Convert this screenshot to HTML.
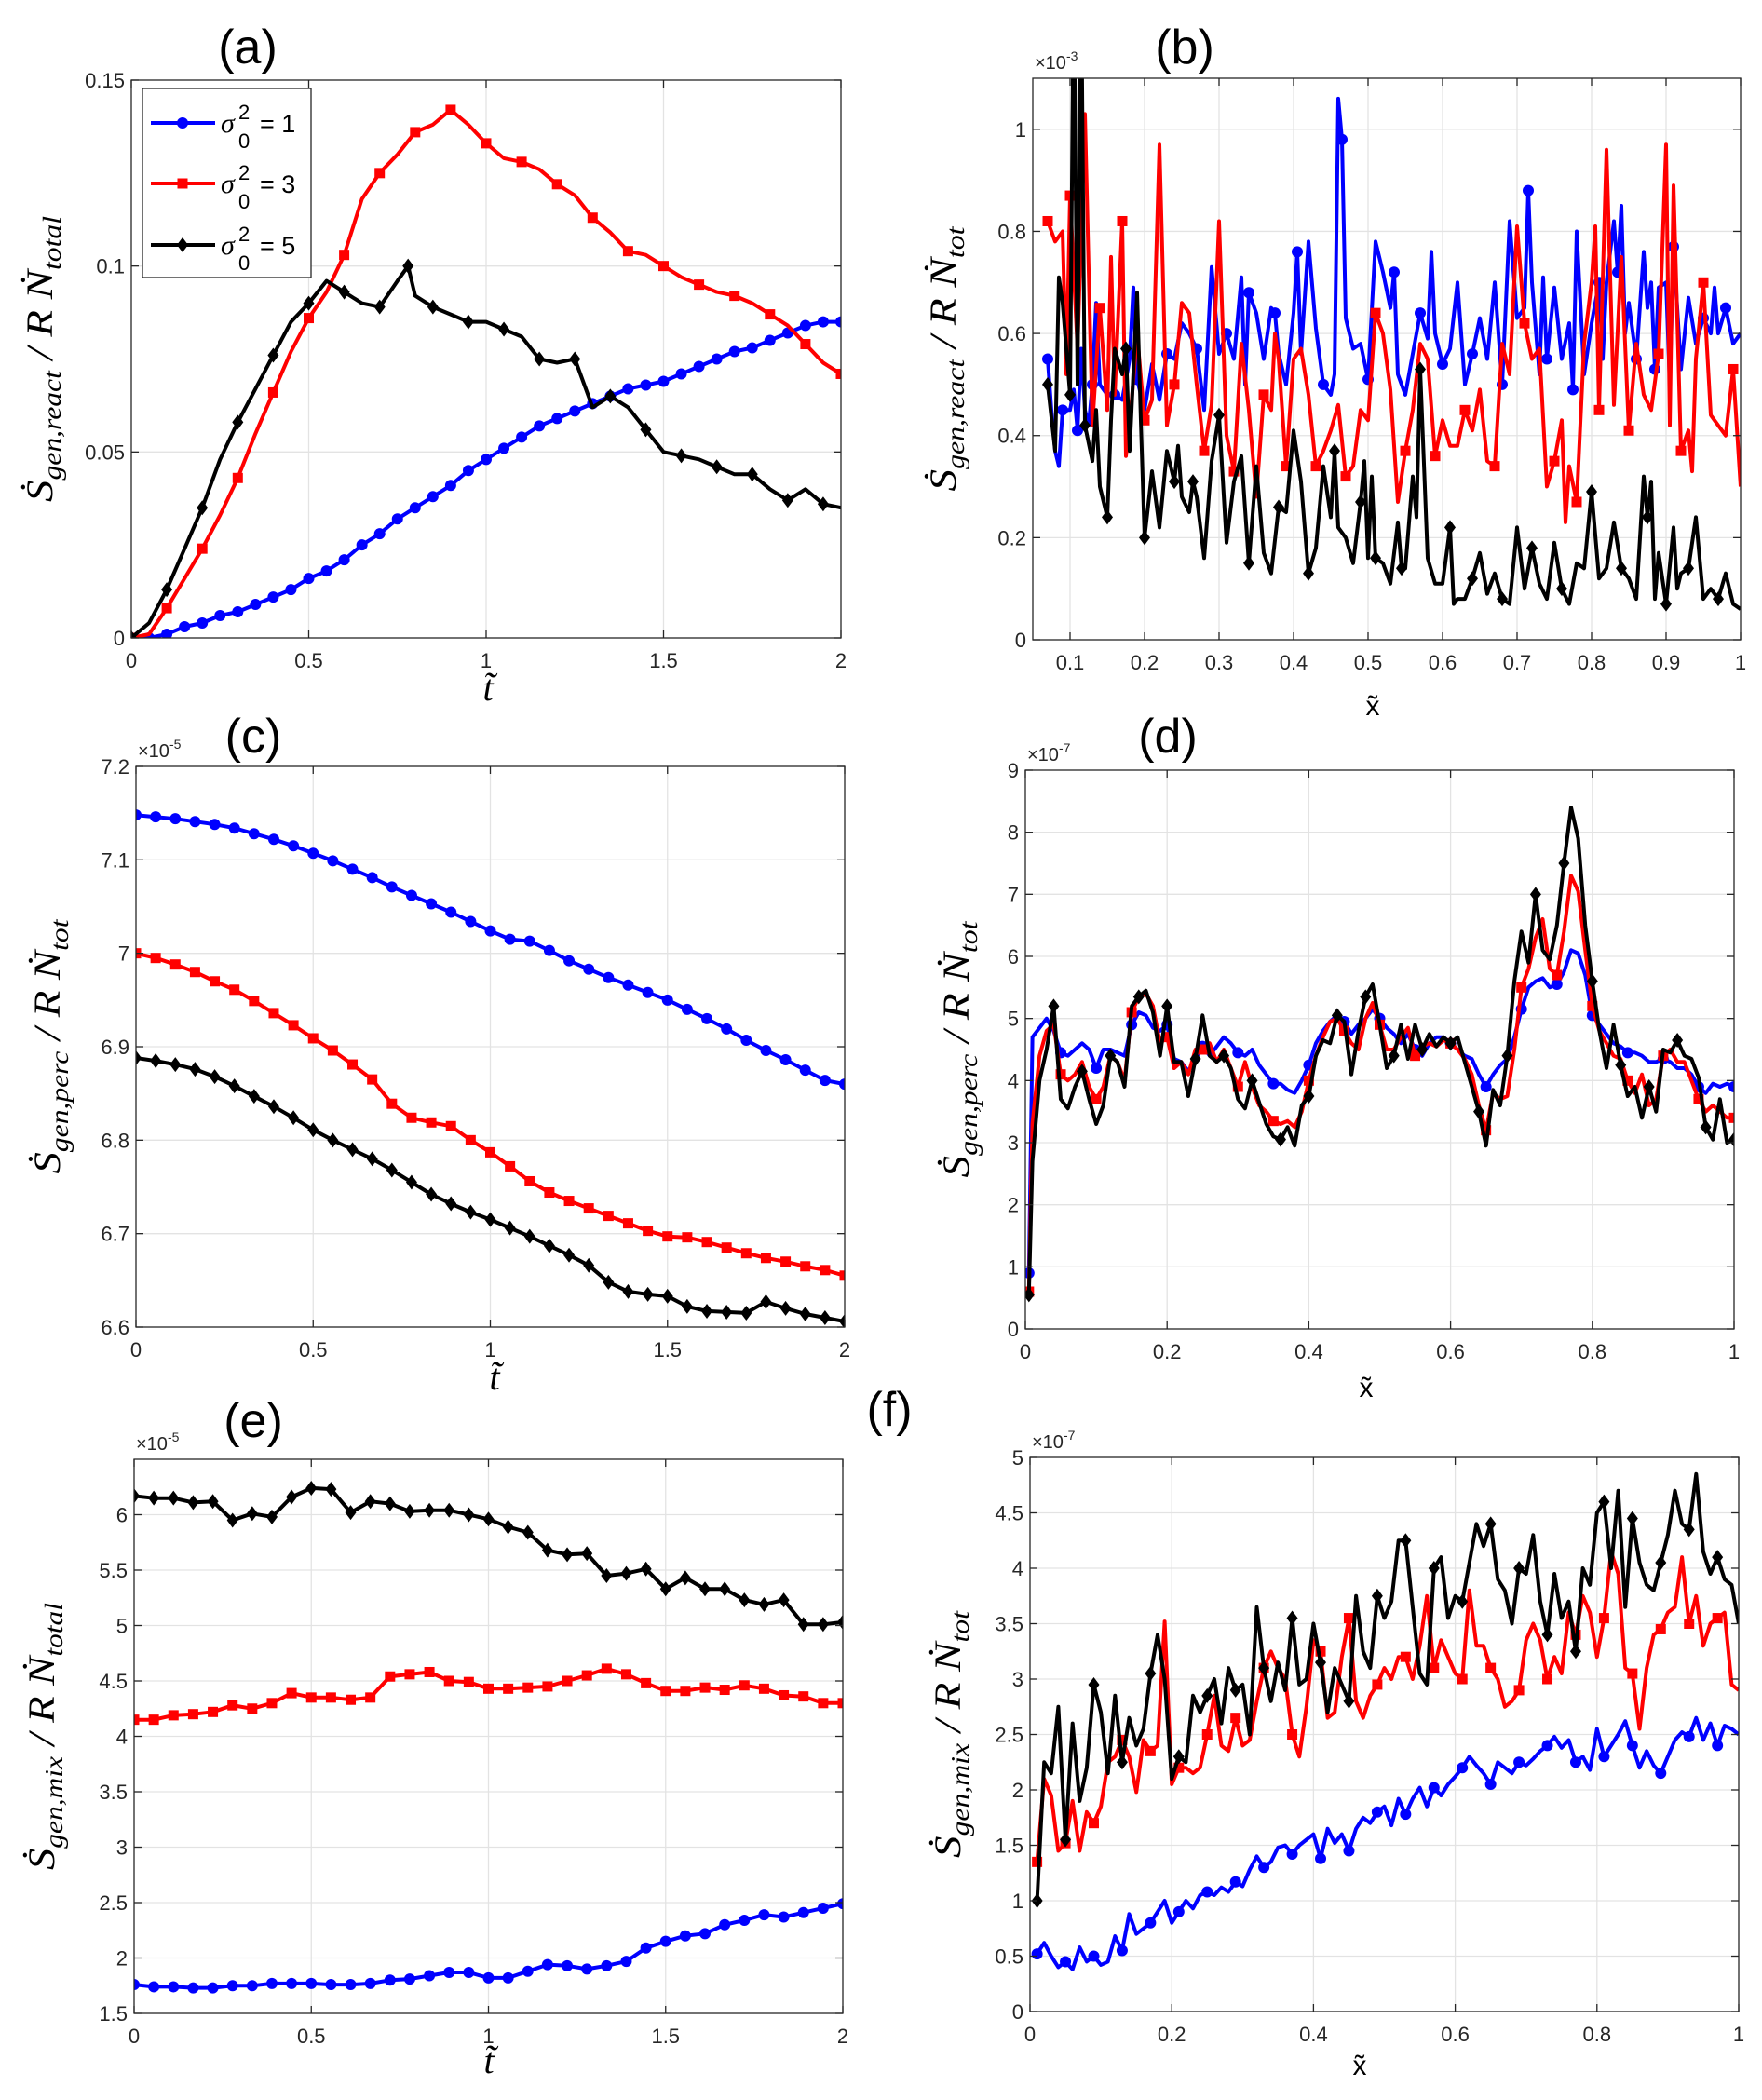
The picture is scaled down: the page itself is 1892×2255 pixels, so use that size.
<!DOCTYPE html>
<html><head><meta charset="utf-8"><style>
html,body{margin:0;padding:0;background:#fff;}
svg{display:block;}
</style></head>
<body>
<svg id="fig" width="1892" height="2255" viewBox="0 0 1892 2255" xmlns="http://www.w3.org/2000/svg">
<rect x="0" y="0" width="1892" height="2255" fill="#fff"/>
<g font-family="'Liberation Sans', sans-serif" font-size="52" fill="#000">
<text x="266" y="68" text-anchor="middle">(a)</text>
<text x="1272" y="68" text-anchor="middle">(b)</text>
<text x="272" y="808" text-anchor="middle">(c)</text>
<text x="1254" y="808" text-anchor="middle">(d)</text>
<text x="272" y="1543" text-anchor="middle">(e)</text>
<text x="955" y="1531" text-anchor="middle">(f)</text>
</g>
</svg>
<script>
// ---------- data ----------
const aT = [0,.05,.1,.15,.2,.25,.3,.35,.4,.45,.5,.55,.6,.65,.7,.75,.8,.85,.9,.95,1,1.05,1.1,1.15,1.2,1.25,1.3,1.35,1.4,1.45,1.5,1.55,1.6,1.65,1.7,1.75,1.8,1.85,1.9,1.95,2];
const aBlue = [0,0,.001,.003,.004,.006,.007,.009,.011,.013,.016,.018,.021,.025,.028,.032,.035,.038,.041,.045,.048,.051,.054,.057,.059,.061,.063,.065,.067,.068,.069,.071,.073,.075,.077,.078,.080,.082,.084,.085,.085];
const aRed = [0,.001,.008,.016,.024,.033,.043,.055,.066,.077,.086,.093,.103,.118,.125,.13,.136,.138,.142,.138,.133,.129,.128,.126,.122,.119,.113,.109,.104,.103,.100,.097,.095,.093,.092,.09,.087,.084,.079,.074,.071];
const aBlackT = [0,.05,.1,.15,.2,.25,.3,.35,.4,.45,.5,.55,.6,.65,.7,.75,.78,.8,.85,.9,.95,1,1.05,1.1,1.15,1.2,1.25,1.3,1.35,1.4,1.45,1.5,1.55,1.6,1.65,1.7,1.75,1.8,1.85,1.9,1.95,2];
const aBlack = [0,.004,.013,.024,.035,.048,.058,.067,.076,.085,.09,.096,.093,.09,.089,.096,.1,.092,.089,.087,.085,.085,.083,.081,.075,.074,.075,.062,.065,.062,.056,.05,.049,.048,.046,.044,.044,.04,.037,.04,.036,.035];

const bBlueX = [.07,.075,.08,.085,.09,.095,.1,.105,.11,.115,.12,.125,.13,.135,.14,.15,.16,.17,.18,.185,.19,.2,.21,.22,.23,.24,.25,.26,.27,.28,.29,.3,.31,.32,.33,.335,.34,.35,.36,.37,.375,.38,.39,.4,.405,.41,.42,.43,.44,.45,.455,.46,.465,.47,.48,.49,.5,.51,.52,.53,.535,.54,.55,.56,.57,.58,.585,.59,.6,.61,.62,.63,.64,.65,.66,.67,.68,.69,.7,.71,.715,.72,.73,.735,.74,.75,.76,.77,.775,.78,.79,.8,.81,.815,.82,.83,.835,.84,.845,.85,.86,.87,.875,.88,.885,.89,.9,.905,.91,.92,.93,.94,.95,.96,.965,.97,.98,.99,1.0];
const bBlueY = [.55,.45,.37,.34,.45,.45,.45,.49,.41,.57,.45,.42,.5,.66,.5,.48,.48,.47,.55,.69,.51,.45,.54,.47,.56,.55,.62,.6,.57,.45,.73,.56,.6,.55,.71,.5,.68,.64,.55,.65,.64,.56,.5,.64,.76,.56,.78,.61,.5,.48,.52,1.06,.98,.63,.57,.58,.51,.78,.72,.65,.72,.52,.48,.56,.64,.59,.76,.6,.54,.57,.7,.5,.56,.63,.55,.7,.5,.82,.63,.65,.88,.7,.52,.71,.55,.69,.55,.62,.49,.8,.52,.62,.7,.55,.7,.82,.72,.85,.6,.66,.55,.76,.65,.7,.53,.69,.7,.5,.77,.53,.67,.58,.63,.6,.69,.6,.65,.58,.6];
const bRedX = [.07,.08,.09,.095,.1,.11,.12,.13,.14,.15,.155,.16,.17,.175,.18,.19,.2,.21,.22,.23,.24,.25,.26,.27,.28,.29,.3,.31,.32,.33,.34,.35,.36,.37,.375,.38,.39,.4,.41,.42,.43,.44,.45,.46,.47,.48,.49,.5,.51,.52,.53,.54,.55,.56,.57,.58,.59,.6,.61,.62,.63,.64,.65,.66,.67,.68,.69,.7,.71,.72,.73,.74,.75,.76,.765,.77,.78,.79,.8,.805,.81,.82,.83,.84,.85,.86,.87,.88,.89,.9,.905,.91,.92,.93,.935,.94,.95,.96,.97,.98,.99,1.0];
const bRedY = [.82,.78,.8,.52,.87,.57,1.03,.42,.65,.45,.75,.48,.82,.36,.42,.6,.43,.47,.97,.42,.5,.66,.64,.5,.37,.46,.82,.4,.33,.58,.45,.28,.48,.45,.6,.55,.34,.55,.57,.48,.34,.37,.41,.46,.32,.34,.45,.43,.64,.6,.49,.27,.37,.45,.58,.55,.36,.43,.38,.38,.45,.41,.49,.35,.34,.58,.52,.81,.62,.55,.57,.3,.35,.43,.23,.34,.27,.58,.7,.81,.45,.96,.46,.75,.41,.58,.48,.45,.56,.97,.42,.89,.37,.41,.33,.55,.7,.44,.42,.4,.53,.3];
const bBlackX = [.07,.08,.085,.09,.1,.105,.11,.115,.12,.13,.135,.14,.15,.155,.16,.17,.175,.18,.19,.195,.2,.21,.22,.23,.24,.245,.25,.26,.265,.27,.28,.29,.3,.31,.32,.33,.34,.35,.36,.37,.38,.39,.4,.41,.42,.43,.44,.45,.455,.46,.47,.48,.49,.495,.5,.505,.51,.52,.53,.54,.545,.55,.56,.565,.57,.58,.59,.6,.61,.615,.62,.63,.64,.65,.66,.67,.68,.69,.7,.71,.72,.73,.74,.75,.76,.77,.78,.79,.8,.81,.82,.83,.84,.85,.86,.87,.875,.88,.885,.89,.9,.91,.915,.92,.93,.94,.95,.96,.97,.98,.99,1.0];
const bBlackY = [.5,.37,.71,.66,.48,1.3,.5,1.3,.42,.35,.45,.3,.24,.43,.57,.52,.57,.37,.68,.43,.2,.33,.22,.37,.31,.38,.28,.25,.31,.28,.16,.35,.44,.19,.31,.36,.15,.34,.17,.13,.26,.25,.41,.31,.13,.18,.34,.24,.37,.22,.2,.15,.27,.35,.16,.32,.16,.15,.11,.23,.14,.14,.32,.24,.53,.16,.11,.11,.22,.07,.08,.08,.12,.17,.09,.13,.08,.07,.22,.1,.18,.11,.08,.19,.1,.07,.15,.14,.29,.12,.14,.23,.14,.12,.08,.32,.24,.31,.08,.17,.07,.22,.1,.13,.14,.24,.08,.1,.08,.13,.07,.06];

const tGrid = [0,1/18,2/18,3/18,4/18,5/18,6/18,7/18,8/18,9/18,10/18,11/18,12/18,13/18,14/18,15/18,16/18,17/18,1,19/18,20/18,21/18,22/18,23/18,24/18,25/18,26/18,27/18,28/18,29/18,30/18,31/18,32/18,33/18,34/18,35/18,2];
const cBlue = [7.148,7.146,7.144,7.141,7.138,7.134,7.128,7.122,7.115,7.107,7.099,7.090,7.081,7.071,7.062,7.053,7.044,7.034,7.024,7.015,7.013,7.003,6.992,6.983,6.974,6.966,6.958,6.950,6.940,6.930,6.919,6.907,6.896,6.886,6.875,6.864,6.860];
const cRed = [7.0,6.995,6.988,6.980,6.970,6.961,6.949,6.936,6.923,6.909,6.896,6.881,6.865,6.839,6.824,6.819,6.815,6.800,6.787,6.772,6.756,6.744,6.735,6.727,6.719,6.711,6.703,6.697,6.696,6.691,6.685,6.679,6.674,6.670,6.665,6.661,6.655];
const cBlack = [6.888,6.885,6.881,6.876,6.868,6.858,6.847,6.836,6.824,6.811,6.800,6.790,6.780,6.768,6.755,6.742,6.732,6.723,6.715,6.706,6.697,6.687,6.677,6.666,6.648,6.638,6.635,6.633,6.622,6.617,6.616,6.615,6.627,6.620,6.614,6.610,6.606];

const dX = [0.005,.01,.02,.03,.04,.05,.06,.07,.08,.09,.1,.11,.12,.13,.14,.15,.16,.17,.18,.19,.2,.21,.22,.23,.24,.25,.26,.27,.28,.29,.3,.31,.32,.33,.34,.35,.36,.37,.38,.39,.4,.41,.42,.43,.44,.45,.46,.47,.48,.49,.5,.51,.52,.53,.54,.55,.56,.57,.58,.59,.6,.61,.62,.63,.64,.65,.66,.67,.68,.69,.7,.71,.72,.73,.74,.75,.76,.77,.78,.79,.8,.81,.82,.83,.84,.85,.86,.87,.88,.89,.9,.91,.92,.93,.94,.95,.96,.97,.98,.99,1.0];
const dBlue = [.9,4.7,4.85,5.0,4.8,4.45,4.4,4.5,4.6,4.5,4.2,4.5,4.5,4.45,4.4,4.9,5.1,5.05,4.85,4.8,4.9,4.35,4.3,4.15,4.35,4.55,4.4,4.55,4.7,4.6,4.45,4.4,4.5,4.25,4.1,3.95,3.95,3.85,3.8,4.0,4.25,4.6,4.8,4.95,5.05,4.95,4.75,4.9,5.0,5.15,5.0,4.85,4.75,4.6,4.75,4.5,4.4,4.6,4.7,4.7,4.6,4.5,4.4,4.35,4.1,3.9,4.1,4.25,4.35,4.7,5.15,5.5,5.6,5.65,5.5,5.55,5.75,6.1,6.05,5.7,5.05,4.9,4.75,4.6,4.55,4.45,4.45,4.4,4.3,4.3,4.35,4.3,4.2,4.2,4.1,3.9,3.8,3.95,3.9,3.95,3.9];
const dRed = [.6,3.3,4.4,4.8,4.9,4.1,4.0,4.1,4.3,3.9,3.7,3.9,4.4,4.3,4.0,5.1,5.35,5.4,5.2,4.6,4.7,4.2,4.3,4.1,4.5,4.5,4.6,4.3,4.5,4.2,3.9,4.3,3.9,3.6,3.5,3.35,3.3,3.35,3.25,3.5,4.0,4.4,4.7,4.95,5.0,4.8,4.6,4.5,5.0,5.25,4.9,4.5,4.5,4.7,4.85,4.4,4.55,4.6,4.55,4.65,4.6,4.5,4.35,4.1,3.6,3.2,3.8,3.7,3.75,4.5,5.5,5.8,6.3,6.6,5.8,5.7,6.4,7.3,7.05,6.1,5.2,4.8,4.6,4.4,4.35,4.0,3.8,4.1,3.6,3.7,4.4,4.5,4.3,4.3,4.0,3.7,3.5,3.6,3.5,3.4,3.4];
const dBlack = [.55,2.7,4.0,4.5,5.2,3.7,3.55,3.9,4.15,3.7,3.3,3.6,4.4,4.3,3.9,5.2,5.35,5.45,5.1,4.4,5.2,4.3,4.3,3.75,4.35,5.05,4.4,4.3,4.4,4.2,3.7,3.55,4.0,3.65,3.3,3.1,3.05,3.25,2.95,3.6,3.75,4.4,4.65,4.6,5.05,4.95,4.1,4.8,5.35,5.55,4.9,4.2,4.4,4.9,4.35,4.9,4.5,4.75,4.55,4.7,4.6,4.7,4.3,3.9,3.5,2.95,3.85,3.6,4.4,5.6,6.4,5.9,7.0,6.1,5.95,6.5,7.5,8.4,7.9,6.5,5.6,4.8,4.2,4.9,4.25,3.75,3.9,3.4,3.9,3.5,4.5,4.45,4.65,4.4,4.35,4.05,3.25,3.05,3.7,3.0,3.05];

const eBlack = [6.17,6.15,6.15,6.11,6.12,5.95,6.01,5.98,6.16,6.24,6.23,6.02,6.12,6.10,6.03,6.04,6.04,6.00,5.96,5.89,5.84,5.68,5.64,5.65,5.45,5.47,5.51,5.33,5.43,5.33,5.33,5.23,5.19,5.23,5.01,5.01,5.03];
const eRed = [4.15,4.15,4.19,4.20,4.22,4.28,4.25,4.30,4.39,4.35,4.35,4.33,4.35,4.54,4.56,4.58,4.50,4.49,4.43,4.43,4.44,4.45,4.50,4.55,4.61,4.56,4.48,4.41,4.41,4.44,4.42,4.46,4.43,4.37,4.36,4.30,4.30];
const eBlue = [1.76,1.74,1.74,1.73,1.73,1.75,1.75,1.77,1.77,1.77,1.76,1.76,1.77,1.80,1.81,1.84,1.87,1.87,1.82,1.82,1.88,1.94,1.93,1.90,1.93,1.97,2.09,2.15,2.20,2.22,2.30,2.34,2.39,2.37,2.41,2.45,2.49];

const fX = [.01,.02,.03,.04,.05,.06,.07,.08,.09,.1,.11,.12,.13,.14,.15,.16,.17,.18,.19,.2,.21,.22,.23,.24,.25,.26,.27,.28,.29,.3,.31,.32,.33,.34,.35,.36,.37,.38,.39,.4,.41,.42,.43,.44,.45,.46,.47,.48,.49,.5,.51,.52,.53,.54,.55,.56,.57,.58,.59,.6,.61,.62,.63,.64,.65,.66,.67,.68,.69,.7,.71,.72,.73,.74,.75,.76,.77,.78,.79,.8,.81,.82,.83,.84,.85,.86,.87,.88,.89,.9,.91,.92,.93,.94,.95,.96,.97,.98,.99,1.0];
const fBlue = [.52,.62,.5,.4,.45,.38,.58,.45,.5,.42,.45,.68,.55,.88,.7,.75,.8,.9,1.0,.8,.9,1.0,.93,1.05,1.08,1.05,1.12,1.08,1.17,1.13,1.28,1.4,1.3,1.35,1.48,1.5,1.42,1.5,1.55,1.6,1.38,1.65,1.52,1.6,1.45,1.65,1.75,1.7,1.8,1.85,1.68,1.92,1.78,1.92,2.02,1.85,2.02,1.95,2.05,2.12,2.2,2.3,2.22,2.15,2.05,2.25,2.2,2.15,2.25,2.22,2.28,2.35,2.4,2.48,2.38,2.45,2.25,2.3,2.18,2.55,2.3,2.4,2.5,2.62,2.4,2.2,2.35,2.22,2.15,2.3,2.45,2.52,2.48,2.65,2.45,2.6,2.4,2.58,2.55,2.5];
const fRed = [1.35,2.1,1.95,1.45,1.52,1.9,1.45,1.8,1.7,1.85,2.25,2.3,2.45,2.3,1.98,2.45,2.35,2.4,3.52,2.05,2.2,2.2,2.15,2.2,2.5,2.85,2.4,2.35,2.65,2.4,2.45,2.8,3.1,3.25,3.1,3.0,2.5,2.3,2.75,3.35,3.25,2.65,2.7,3.2,3.55,2.8,2.65,2.85,2.95,3.1,3.0,3.2,3.2,3.0,3.3,3.75,3.1,3.35,3.2,3.05,3.0,3.8,3.3,3.3,3.1,3.0,2.75,2.8,2.9,3.35,3.5,3.35,3.0,3.2,3.05,3.6,3.4,3.75,3.6,3.2,3.55,4.15,3.95,3.1,3.05,2.55,3.1,3.4,3.45,3.6,3.65,4.1,3.5,3.75,3.3,3.5,3.55,3.6,2.95,2.9];
const fBlack = [1.0,2.25,2.15,2.75,1.55,2.6,1.9,2.2,2.95,2.7,2.15,2.85,2.25,2.65,2.4,2.55,3.05,3.4,3.0,2.1,2.3,2.25,2.85,2.7,2.85,3.0,2.6,3.1,2.9,2.95,2.5,3.65,3.1,2.8,3.15,2.9,3.55,2.95,3.0,3.5,3.15,2.7,3.1,2.95,2.8,3.75,3.25,3.1,3.75,3.55,3.7,4.25,4.25,3.65,3.05,2.95,4.0,4.1,3.55,3.75,3.7,4.05,4.4,4.2,4.4,3.9,3.8,3.5,4.0,3.95,4.3,3.7,3.4,3.95,3.55,3.7,3.25,4.0,3.85,4.5,4.6,4.0,4.7,3.65,4.45,4.05,3.85,3.8,4.05,4.3,4.7,4.4,4.35,4.85,4.15,3.95,4.1,3.9,3.85,3.5];

const tTicks = [0,0.5,1,1.5,2];
const tTickLabels = ["0","0.5","1","1.5","2"];
const aYTicks = [0,0.05,0.1,0.15];
const aYTickLabels = ["0","0.05","0.1","0.15"];
const bXTicks = [0.1,0.2,0.3,0.4,0.5,0.6,0.7,0.8,0.9,1];
const bXTickLabels = ["0.1","0.2","0.3","0.4","0.5","0.6","0.7","0.8","0.9","1"];
const bYTicks = [0,0.2,0.4,0.6,0.8,1];
const bYTickLabels = ["0","0.2","0.4","0.6","0.8","1"];
const cYTicks = [6.6,6.7,6.8,6.9,7,7.1,7.2];
const cYTickLabels = ["6.6","6.7","6.8","6.9","7","7.1","7.2"];
const xTicks01 = [0,0.2,0.4,0.6,0.8,1];
const xTick01Labels = ["0","0.2","0.4","0.6","0.8","1"];
const dYTicks = [0,1,2,3,4,5,6,7,8,9];
const dYTickLabels = ["0","1","2","3","4","5","6","7","8","9"];
const eYTicks = [1.5,2,2.5,3,3.5,4,4.5,5,5.5,6];
const eYTickLabels = ["1.5","2","2.5","3","3.5","4","4.5","5","5.5","6"];
const fYTicks = [0,0.5,1,1.5,2,2.5,3,3.5,4,4.5,5];
const fYTickLabels = ["0","0.5","1","1.5","2","2.5","3","3.5","4","4.5","5"];
const legendLabels = ["1","3","5"];

// ---------- drawing ----------
const NS = "http://www.w3.org/2000/svg";
const svg = document.getElementById('fig');
const BLUE = "#0000ff", RED = "#ff0000", BLK = "#000000";
function mk(tag, attrs, parent){
  const e = document.createElementNS(NS, tag);
  for (const k in attrs) e.setAttribute(k, attrs[k]);
  parent.appendChild(e);
  return e;
}
function marker(g, kind, cx, cy, color, name){
  let m;
  if (kind === 'o') m = mk('circle', {cx:cx, cy:cy, r:6, fill:color}, g);
  else if (kind === 's') m = mk('rect', {x:cx-5.5, y:cy-5.5, width:11, height:11, fill:color}, g);
  else m = mk('polygon', {points:`${cx},${cy-8} ${cx+6},${cy} ${cx},${cy+8} ${cx-6},${cy}`, fill:color}, g);
  
  
}
let clipId = 0;
function panel(cfg){
  const g = mk('g', {}, svg);
  
  
  const {x0,x1,y0,y1} = cfg.box;
  const sx = v => x0 + (v - cfg.xr[0]) / (cfg.xr[1] - cfg.xr[0]) * (x1 - x0);
  const sy = v => y1 - (v - cfg.yr[0]) / (cfg.yr[1] - cfg.yr[0]) * (y1 - y0);
  // grid
  cfg.xt.forEach(v => {
    const X = sx(v);
    if (X > x0 + 1 && X < x1 - 1) {
      const l = mk('line', {x1:X, y1:y0, x2:X, y2:y1, stroke:"#e3e3e3", "stroke-width":1.3}, g);
      
      
    }
  });
  cfg.yt.forEach(v => {
    const Y = sy(v);
    if (Y > y0 + 1 && Y < y1 - 1) {
      const l = mk('line', {x1:x0, y1:Y, x2:x1, y2:Y, stroke:"#e3e3e3", "stroke-width":1.3}, g);
      
      
    }
  });
  // series
  const cid = 'clip' + (clipId++);
  const cp = mk('clipPath', {id:cid}, g);
  mk('rect', {x:x0, y:y0, width:x1-x0, height:y1-y0}, cp);
  const sg = mk('g', {'clip-path':`url(#${cid})`}, g);
  cfg.series.forEach(s => {
    const n = Math.min(s.x.length, s.y.length);
    let d = '';
    for (let i = 0; i < n; i++) d += (i ? 'L' : 'M') + sx(s.x[i]).toFixed(1) + ',' + sy(s.y[i]).toFixed(1);
    const p = mk('path', {d:d, fill:'none', stroke:s.color, 'stroke-width':4, 'stroke-linejoin':'round'}, sg);
    
    
    for (let i = 0; i < n; i += s.every) marker(sg, s.mk, sx(s.x[i]), sy(s.y[i]), s.color, s.name + '-marker');
  });
  // box
  const bx = mk('rect', {x:x0, y:y0, width:x1-x0, height:y1-y0, fill:'none', stroke:'#262626', 'stroke-width':1.3}, g);
  
  
  // ticks + labels
  cfg.xt.forEach((v, i) => {
    const X = sx(v);
    const t1 = mk('line', {x1:X, y1:y1, x2:X, y2:y1-8, stroke:'#262626', 'stroke-width':1.3}, g);
    
    
    const t2 = mk('line', {x1:X, y1:y0, x2:X, y2:y0+8, stroke:'#262626', 'stroke-width':1.3}, g);
    
    
    const tx = mk('text', {x:X, y:y1+32, 'text-anchor':'middle', 'font-family':"'Liberation Sans', sans-serif", 'font-size':22, fill:'#262626'}, g);
    tx.textContent = cfg.xl[i];
    
    
  });
  cfg.yt.forEach((v, i) => {
    const Y = sy(v);
    const t1 = mk('line', {x1:x0, y1:Y, x2:x0+8, y2:Y, stroke:'#262626', 'stroke-width':1.3}, g);
    
    
    const t2 = mk('line', {x1:x1, y1:Y, x2:x1-8, y2:Y, stroke:'#262626', 'stroke-width':1.3}, g);
    
    
    const tx = mk('text', {x:x0-7, y:Y+8, 'text-anchor':'end', 'font-family':"'Liberation Sans', sans-serif", 'font-size':22, fill:'#262626'}, g);
    tx.textContent = cfg.yl[i];
    
    
  });
  // exponent
  if (cfg.exp) {
    const ex = mk('text', {x:x0+2, y:y0-10, 'font-family':"'Liberation Sans', sans-serif", 'font-size':20, fill:'#262626'}, g);
    
    
    ex.innerHTML = `\u00d710<tspan dy="-9" font-size="14">${cfg.exp}</tspan>`;
  }
  // x label
  const xl = mk('text', {x:cfg.xlab.x, y:cfg.xlab.y, 'text-anchor':'middle', 'font-family': cfg.xlab.serif ? "'Liberation Serif', serif" : "'Liberation Sans', sans-serif", 'font-style': cfg.xlab.serif ? 'italic' : 'normal', 'font-size': cfg.xlab.serif ? 40 : 30, fill:'#000'}, g);
  xl.textContent = cfg.xlab.text;
  
  
  // y label
  const yl = mk('text', {x:0, y:0, 'text-anchor':'middle', 'font-family':"'Liberation Serif', serif", 'font-style':'italic', 'font-size':40, fill:'#000', transform:`translate(${cfg.ylab.x},${(y0+y1)/2}) rotate(-90)`, textLength:cfg.ylab.len, lengthAdjust:'spacingAndGlyphs'}, g);
  
  
  yl.innerHTML = `<tspan>\u1E60</tspan><tspan font-size="27" dy="9">${cfg.ylab.s1}</tspan><tspan dy="-9"> / R \u1E44</tspan><tspan font-size="27" dy="9">${cfg.ylab.s2}</tspan>`;
  return {g, sx, sy};
}

const pa = panel({name:'panel-a', box:{x0:141,x1:903,y0:86,y1:685}, xr:[0,2], yr:[0,0.15], xt:tTicks, xl:tTickLabels, yt:aYTicks, yl:aYTickLabels,
  xlab:{x:524, y:752, text:'t\u0303', serif:true}, ylab:{x:56, len:307, s1:'gen,react', s2:'total'},
  series:[{name:'sigma-1', x:aT, y:aBlue, color:BLUE, mk:'o', every:1},
          {name:'sigma-3', x:aT, y:aRed, color:RED, mk:'s', every:2},
          {name:'sigma-5', x:aBlackT, y:aBlack, color:BLK, mk:'d', every:2}]});
panel({name:'panel-b', box:{x0:1109,x1:1869,y0:84,y1:687}, xr:[0.05,1], yr:[0,1.1], xt:bXTicks, xl:bXTickLabels, yt:bYTicks, yl:bYTickLabels, exp:'-3',
  xlab:{x:1474, y:768, text:'x\u0303', serif:false}, ylab:{x:1026, len:284, s1:'gen,react', s2:'tot'},
  series:[{name:'sigma-1', x:bBlueX, y:bBlueY, color:BLUE, mk:'o', every:4},
          {name:'sigma-3', x:bRedX, y:bRedY, color:RED, mk:'s', every:4},
          {name:'sigma-5', x:bBlackX, y:bBlackY, color:BLK, mk:'d', every:4}]});
panel({name:'panel-c', box:{x0:146,x1:907,y0:823,y1:1425}, xr:[0,2], yr:[6.6,7.2], xt:tTicks, xl:tTickLabels, yt:cYTicks, yl:cYTickLabels, exp:'-5',
  xlab:{x:531, y:1492, text:'t\u0303', serif:true}, ylab:{x:64, len:273, s1:'gen,perc', s2:'tot'},
  series:[{name:'sigma-1', x:tGrid, y:cBlue, color:BLUE, mk:'o', every:1},
          {name:'sigma-3', x:tGrid, y:cRed, color:RED, mk:'s', every:1},
          {name:'sigma-5', x:tGrid, y:cBlack, color:BLK, mk:'d', every:1}]});
panel({name:'panel-d', box:{x0:1101,x1:1862,y0:827,y1:1427}, xr:[0,1], yr:[0,9], xt:xTicks01, xl:xTick01Labels, yt:dYTicks, yl:dYTickLabels, exp:'-7',
  xlab:{x:1467, y:1500, text:'x\u0303', serif:false}, ylab:{x:1040, len:275, s1:'gen,perc', s2:'tot'},
  series:[{name:'sigma-1', x:dX, y:dBlue, color:BLUE, mk:'o', every:5},
          {name:'sigma-3', x:dX, y:dRed, color:RED, mk:'s', every:5},
          {name:'sigma-5', x:dX, y:dBlack, color:BLK, mk:'d', every:4}]});
panel({name:'panel-e', box:{x0:144,x1:905,y0:1567,y1:2162}, xr:[0,2], yr:[1.5,6.5], xt:tTicks, xl:tTickLabels, yt:eYTicks, yl:eYTickLabels, exp:'-5',
  xlab:{x:525, y:2226, text:'t\u0303', serif:true}, ylab:{x:58, len:287, s1:'gen,mix', s2:'total'},
  series:[{name:'sigma-1', x:tGrid, y:eBlue, color:BLUE, mk:'o', every:1},
          {name:'sigma-3', x:tGrid, y:eRed, color:RED, mk:'s', every:1},
          {name:'sigma-5', x:tGrid, y:eBlack, color:BLK, mk:'d', every:1}]});
panel({name:'panel-f', box:{x0:1106,x1:1867,y0:1565,y1:2160}, xr:[0,1], yr:[0,5], xt:xTicks01, xl:xTick01Labels, yt:fYTicks, yl:fYTickLabels, exp:'-7',
  xlab:{x:1460, y:2228, text:'x\u0303', serif:false}, ylab:{x:1031, len:265, s1:'gen,mix', s2:'tot'},
  series:[{name:'sigma-1', x:fX, y:fBlue, color:BLUE, mk:'o', every:4},
          {name:'sigma-3', x:fX, y:fRed, color:RED, mk:'s', every:4},
          {name:'sigma-5', x:fX, y:fBlack, color:BLK, mk:'d', every:4}]});

// legend for panel a
const lg = mk('g', {}, svg);


const lb = mk('rect', {x:153, y:95, width:181, height:203, fill:'#fff', stroke:'#262626', 'stroke-width':1.3}, lg);


const legColors = [BLUE, RED, BLK];
const legMarks = ['o','s','d'];
const legY = [132, 197, 263];
legendLabels.forEach((lab, i) => {
  const eg = mk('g', {}, lg);
  
  
  const ln = mk('line', {x1:162, y1:legY[i], x2:231, y2:legY[i], stroke:legColors[i], 'stroke-width':4}, eg);
  
  
  marker(eg, legMarks[i], 196, legY[i], legColors[i], 'legend-marker');
  const s = mk('text', {x:237, y:legY[i]+10, 'font-family':"'Liberation Serif', serif", 'font-style':'italic', 'font-size':30}, eg);
  s.textContent = '\u03c3';
  
  
  const sup = mk('text', {x:256, y:legY[i]-4, 'font-family':"'Liberation Sans', sans-serif", 'font-size':22}, eg);
  sup.textContent = '2';
  
  
  const sub = mk('text', {x:256, y:legY[i]+27, 'font-family':"'Liberation Sans', sans-serif", 'font-size':22}, eg);
  sub.textContent = '0';
  
  
  const eq = mk('text', {x:279, y:legY[i]+10, 'font-family':"'Liberation Sans', sans-serif", 'font-size':27}, eg);
  eq.textContent = '= ' + lab;
  
  
});
</script>
</body></html>
